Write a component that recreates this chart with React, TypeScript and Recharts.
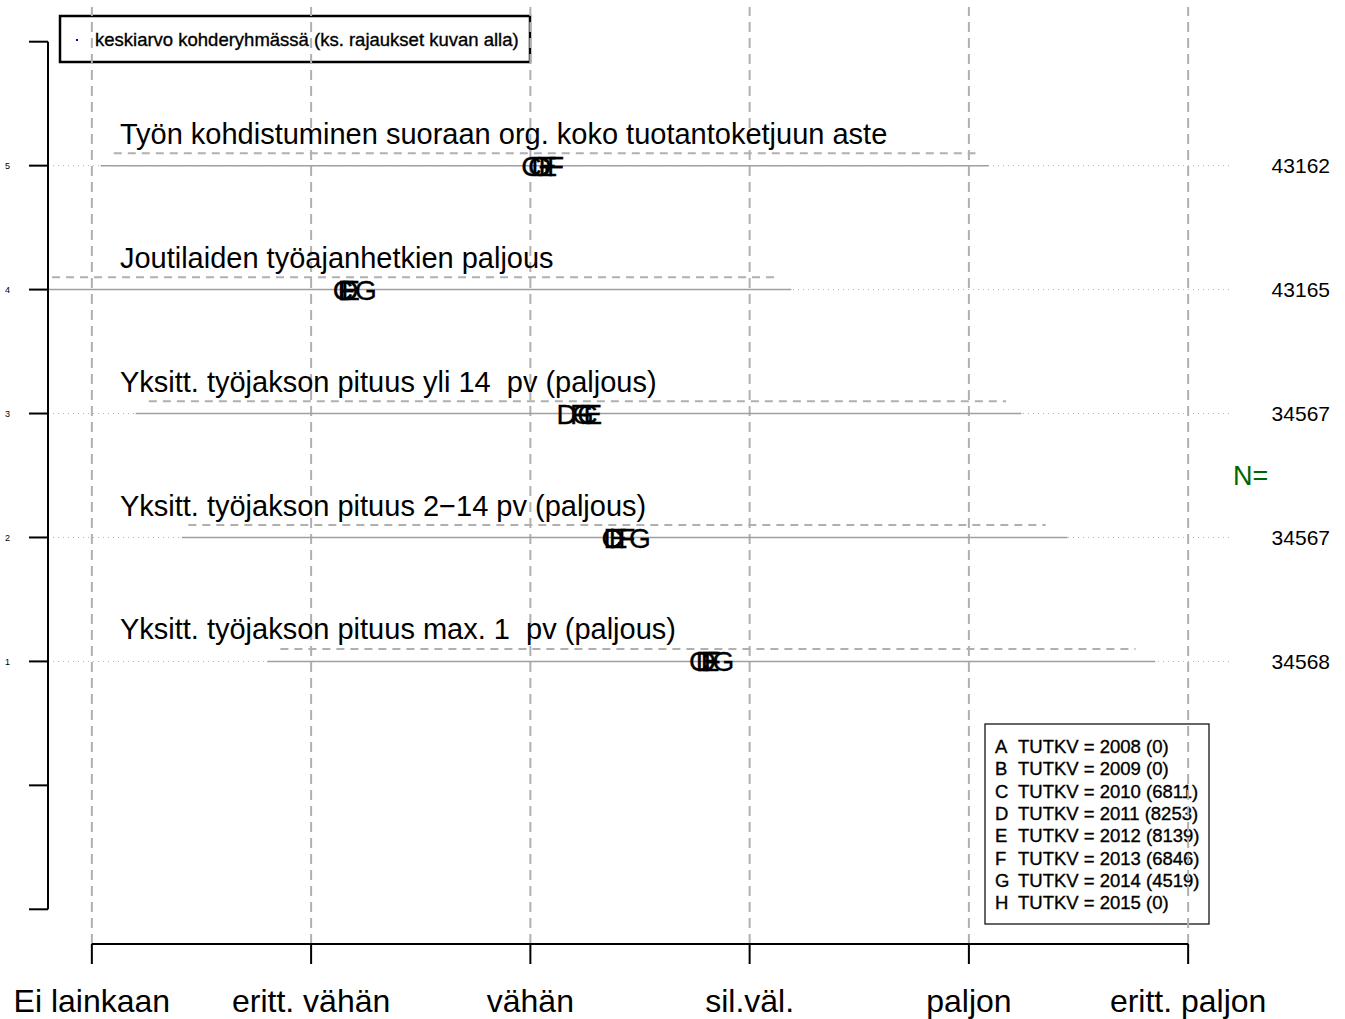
import React from 'react';
import { ScatterChart, XAxis, YAxis, Scatter, ReferenceLine, ReferenceDot, Customized } from 'recharts';

const FONT = '"Liberation Sans", Arial, Helvetica, sans-serif';

// rows 1..5 (bottom to top)
const rows = [1, 2, 3, 4, 5];
const rowTitles = [
  'Yksitt. työjakson pituus max. 1  pv (paljous)',
  'Yksitt. työjakson pituus 2\u221214 pv (paljous)',
  'Yksitt. työjakson pituus yli 14  pv (paljous)',
  'Joutilaiden työajanhetkien paljous',
  'Työn kohdistuminen suoraan org. koko tuotantoketjuun aste',
];
const nValues = [34568, 34567, 34567, 43165, 43162];

// range lines (solid = overall, dashed = group)
const solidLow = [1.8, 1.41, 1.2, 0.11, 1.04];
const solidHigh = [5.85, 5.45, 5.24, 4.19, 5.09];
const dashLow = [1.86, 1.44, 1.26, 0.18, 1.1];
const dashHigh = [5.76, 5.35, 5.17, 4.12, 5.03];

// means per year group
const meanC = [3.77, 3.37, 3.26, 2.145, 3.005];
const meanD = [3.8, 3.38, 3.165, 2.17, 3.05];
const meanE = [3.82, 3.4, 3.285, 2.18, 3.08];
const meanF = [3.83, 3.44, 3.22, 2.16, 3.115];
const meanG = [3.88, 3.5, 3.24, 2.25, 3.04];

const xTicks = [1, 2, 3, 4, 5, 6];
const xLabels = ['Ei lainkaan', 'eritt. vähän', 'vähän', 'sil.väl.', 'paljon', 'eritt. paljon'];
const yTicks = [-1, 0, 1, 2, 3, 4, 5, 6];

const legendLetters = ['A', 'B', 'C', 'D', 'E', 'F', 'G', 'H'];
const legendYears = [2008, 2009, 2010, 2011, 2012, 2013, 2014, 2015];
const legendCounts = [0, 0, 6811, 8253, 8139, 6846, 4519, 0];

const seriesLetters = ['C', 'D', 'E', 'F', 'G'];
const seriesMeans = [meanC, meanD, meanE, meanF, meanG];

const titleData = rows.map((r, i) => ({ x: 1.128, y: r + 0.177, label: rowTitles[i] }));

const LetterShape = (letter: string) => (props: any) => (
  <text x={props.cx} y={props.cy} dy="0.36em" textAnchor="middle" fontSize={28} fontFamily={FONT} fill="#000" stroke="#000" strokeWidth={0.3}>
    {letter}
  </text>
);

const TitleShape = (props: any) => (
  <text x={props.cx} y={props.cy} fontSize={29} fontFamily={FONT} fill="#000" style={{ whiteSpace: 'pre' }}>
    {props.payload.label}
  </text>
);

const XTick = (props: any) => {
  const idx = xTicks.indexOf(props.payload.value);
  return (
    <text x={props.x} y={props.y} dy={46} textAnchor="middle" fontSize={32} fontFamily={FONT} fill="#000">
      {xLabels[idx]}
    </text>
  );
};

const YTick = (props: any) => {
  const v = props.payload.value;
  if (v < 1 || v > 5) return <g />;
  return (
    <text x={props.x - 17} y={props.y} dy="0.36em" textAnchor="end" fontSize={9} fontFamily={FONT} fill="#000">
      {v}
    </text>
  );
};

const Legends = () => (
  <g fontFamily={FONT}>
    <rect x={60} y={16} width={470} height={46} fill="none" stroke="#000" strokeWidth={2.5} />
    <rect x={76} y={39} width={2} height={2} fill="#0000cc" />
    <text x={95} y={46} fontSize={18.5} fill="#000" stroke="#000" strokeWidth={0.35}>
      keskiarvo kohderyhmässä (ks. rajaukset kuvan alla)
    </text>
    <rect x={985} y={724} width={224} height={200} fill="none" stroke="#000" strokeWidth={1.2} />
    {legendLetters.map((l, i) => (
      <g key={l} stroke="#000" strokeWidth={0.35}>
        <text x={995} y={753 + i * 22.3} fontSize={18.5} fill="#000">{l}</text>
        <text x={1018} y={753 + i * 22.3} fontSize={18.5} fill="#000">
          {`TUTKV = ${legendYears[i]} (${legendCounts[i]})`}
        </text>
      </g>
    ))}
  </g>
);

export default function App() {
  return (
    <div style={{ position: 'absolute', left: 0, top: 0, background: '#fff' }}>
      <ScatterChart width={1345} height={1019} margin={{ top: 7, right: 113, bottom: 0, left: 0 }}>
        <XAxis
          type="number"
          dataKey="x"
          domain={[0.8, 6.2]}
          allowDataOverflow
          ticks={xTicks}
          interval={0}
          tickSize={20}
          tickLine={{ stroke: '#000', strokeWidth: 2 }}
          axisLine={false}
          height={75}
          tick={<XTick />}
        />
        <YAxis
          type="number"
          dataKey="y"
          domain={[-1.28, 6.28]}
          allowDataOverflow
          ticks={yTicks}
          interval={0}
          tickSize={19}
          tickLine={{ stroke: '#000', strokeWidth: 2 }}
          axisLine={false}
          width={48}
          tick={<YTick />}
        />
        {xTicks.map((t) => (
          <ReferenceLine key={'vx' + t} x={t} stroke="#b0b0b0" strokeWidth={2} strokeDasharray="10 6" />
        ))}
        {rows.map((r) => (
          <ReferenceLine key={'hy' + r} y={r} stroke="#b0b0b0" strokeWidth={1} strokeDasharray="1 4" />
        ))}
        {rows.map((r, i) => (
          <ReferenceLine
            key={'sl' + r}
            segment={[{ x: solidLow[i], y: r }, { x: solidHigh[i], y: r }]}
            ifOverflow="hidden"
            stroke="#a0a0a0"
            strokeWidth={1.5}
          />
        ))}
        {rows.map((r, i) => (
          <ReferenceLine
            key={'dl' + r}
            segment={[{ x: dashLow[i], y: r + 0.1 }, { x: dashHigh[i], y: r + 0.1 }]}
            ifOverflow="hidden"
            stroke="#b0b0b0"
            strokeWidth={2}
            strokeDasharray="8 6"
          />
        ))}
        <ReferenceLine
          segment={[{ x: 0.8, y: -1 }, { x: 0.8, y: 6 }]}
          ifOverflow="visible"
          stroke="#000"
          strokeWidth={2}
        />
        <ReferenceLine
          segment={[{ x: 1, y: -1.28 }, { x: 6, y: -1.28 }]}
          ifOverflow="visible"
          stroke="#000"
          strokeWidth={2}
        />
        <Scatter data={titleData} shape={TitleShape} isAnimationActive={false} />
        {seriesLetters.map((l, k) => (
          <Scatter
            key={l}
            name={l}
            data={rows.map((r, i) => ({ x: seriesMeans[k][i], y: r }))}
            shape={LetterShape(l)}
            isAnimationActive={false}
          />
        ))}
        {rows.map((r, i) => (
          <ReferenceDot
            key={'n' + r}
            x={6.2}
            y={r}
            ifOverflow="visible"
            shape={(p: any) => (
              <text x={p.cx + 98} y={p.cy} dy="0.36em" textAnchor="end" fontSize={21} fontFamily={FONT} fill="#000">
                {nValues[i]}
              </text>
            )}
          />
        ))}
        <ReferenceDot
          x={6.2}
          y={2.5}
          ifOverflow="visible"
          shape={(p: any) => (
            <text x={p.cx + 1} y={p.cy} dy="0.36em" fontSize={27} fontFamily={FONT} fill="#006400">
              N=
            </text>
          )}
        />
        <Customized component={Legends} />
      </ScatterChart>
    </div>
  );
}
